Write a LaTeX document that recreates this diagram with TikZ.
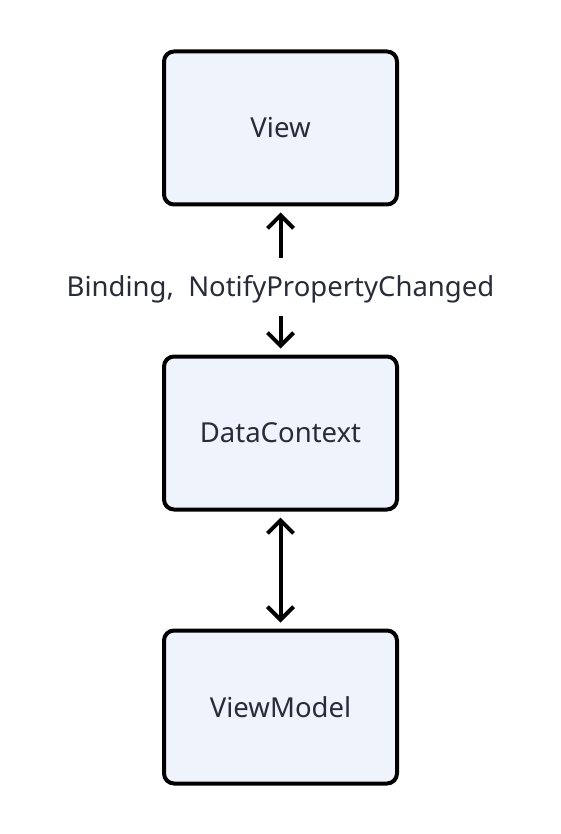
\documentclass[tikz,border=0pt]{standalone}
\usepackage{fontspec}
\setmainfont{Noto Sans}
\usetikzlibrary{arrows.meta}
\definecolor{boxfill}{RGB}{239,243,252}
\definecolor{txt}{RGB}{40,44,56}
\tikzset{
  box/.style={draw=black, line width=4pt, fill=boxfill, rounded corners=10pt,
    minimum width=233pt, minimum height=153pt, inner sep=0pt,
    font=\fontsize{27.5}{32}\selectfont, text=txt},
  lbl/.style={font=\fontsize{27.5}{32}\selectfont, text=txt, inner sep=0pt},
  tipstyle/.style={},
  arr/.style={line width=4pt, {Straight Barb[length=13pt,width=26pt,line width=4pt]}-{Straight Barb[length=13pt,width=26pt,line width=4pt]}},
  arrone/.style={line width=4pt, -{Straight Barb[length=13pt,width=26pt,line width=4pt]}}
}
\begin{document}
\begin{tikzpicture}[x=1pt,y=-1pt]
\useasboundingbox (0,0) rectangle (560,834);
\node[box] (view) at (280.5,128) {View};
\node[box] (dc) at (280.5,433) {DataContext};
\node[box] (vm) at (280.5,707) {ViewModel};
\node[lbl] (label) at (280.5,289) {Binding,\ \ NotifyPropertyChanged};
\coordinate (a1) at (280.5,258);
\coordinate (a2) at (280.5,316);
\draw[arrone, shorten >=6pt] (a1) -- (view.south);
\draw[arrone, shorten >=6pt] (a2) -- (dc.north);
\draw[arr, shorten >=6pt, shorten <=6pt] (dc.south) -- (vm.north);
\end{tikzpicture}
\end{document}
